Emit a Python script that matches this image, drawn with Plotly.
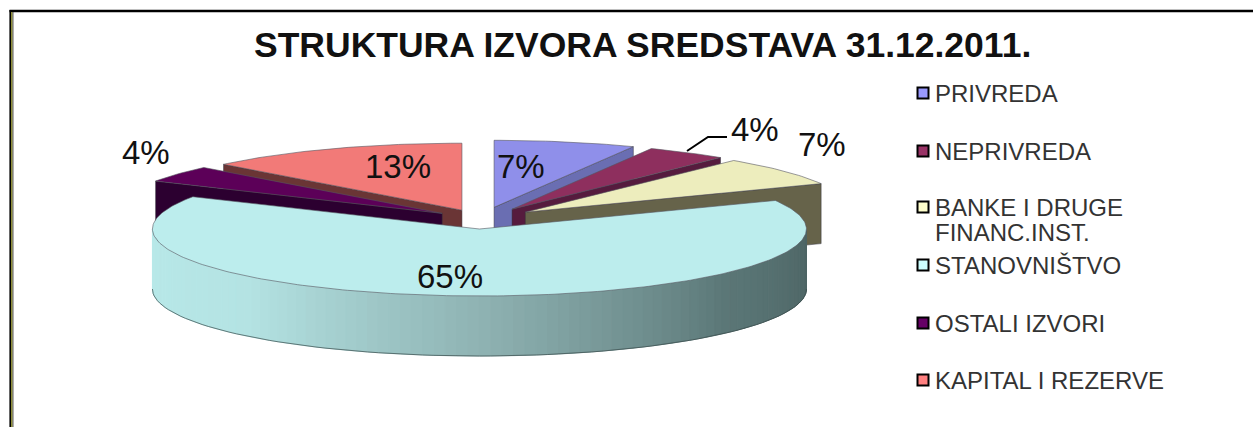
import math
import plotly.graph_objects as go

categories = ["PRIVREDA", "NEPRIVREDA", "BANKE I DRUGE<br>FINANC.INST.", "STANOVNIŠTVO", "OSTALI IZVORI", "KAPITAL I REZERVE"]
values = [7, 4, 7, 65, 4, 13]
top_colors = ["#8f8fea", "#8e2f5e", "#ededbd", "#bceded", "#5c0058", "#f27a78"]
side_colors = ["#6a6eb2", "#561b3e", "#66634a", "#4d6666", "#2c0030", "#6a3535"]
swatch_colors = ["#9999ff", "#993366", "#ffffcc", "#ccffff", "#660066", "#ff8080"]
pull = [60, 58, 56, 50, 48, 48]
draw_order = [0, 1, 2, 5, 4, 3]

CX, CY, RX, RY, DEPTH, TILT = 481, 219, 327, 67, 60, 0.2
W, H = 1253, 427

total = sum(values)
edges = [0]
for v in values:
    edges.append(edges[-1] + v / total * 360)


def apex(i):
    mid = math.radians((edges[i] + edges[i + 1]) / 2)
    return CX + pull[i] * math.sin(mid), CY - pull[i] * TILT * math.cos(mid)


def rim(i, deg):
    ax, ay = apex(i)
    t = math.radians(deg)
    return ax + RX * math.sin(t), ay - RY * math.cos(t)


def lerp_hex(stops, f):
    for (f0, c0), (f1, c1) in zip(stops, stops[1:]):
        if f <= f1:
            u = (f - f0) / (f1 - f0)
            rgb = [round(int(c0[k:k + 2], 16) * (1 - u) + int(c1[k:k + 2], 16) * u) for k in (1, 3, 5)]
            return "rgb(%d,%d,%d)" % tuple(rgb)
    return stops[-1][1]


fig = go.Figure()


def poly(xs, ys, fill, line=None, width=0, name=""):
    fig.add_trace(go.Scatter(
        x=xs + xs[:1], y=ys + ys[:1], mode="lines", fill="toself", fillcolor=fill,
        line=dict(color=line or fill, width=width), name=name, showlegend=False, hoverinfo="name"))


wall_stops = [(0, "#b8e9e9"), (0.25, "#b4e3e3"), (0.5, "#8fb3b3"), (0.78, "#5a7676"), (1, "#4d6464")]

for i in draw_order:
    ax, ay = apex(i)
    a0, a1 = edges[i], edges[i + 1]
    if i == 3:
        n = 90
        lo, hi = 90, 270
        for k in range(n):
            d0 = hi - (hi - lo) * k / n
            d1 = hi - (hi - lo) * (k + 1) / n
            x0, y0 = rim(i, d0)
            x1, y1 = rim(i, d1)
            c = lerp_hex(wall_stops, k / (n - 1))
            poly([x0, x1, x1, x0], [y0, y1, y1 + DEPTH, y0 + DEPTH], c, c, 1, categories[i])
        degs = [hi - (hi - lo) * k / n for k in range(n + 1)]
        pts = [rim(i, d) for d in degs]
        fig.add_trace(go.Scatter(x=[p[0] for p in pts], y=[p[1] + DEPTH for p in pts], mode="lines",
                                 line=dict(color="#3a4a4a", width=0.7), showlegend=False, hoverinfo="skip"))
    else:
        cut = a0 if i == 5 or i == 4 else a1
        ex, ey = rim(i, cut)
        poly([ax, ex, ex, ax], [ay, ey, ey + DEPTH, ay + DEPTH], side_colors[i], "#30303a", 0.5, categories[i])
    steps = max(8, int(a1 - a0))
    arc = [rim(i, a0 + (a1 - a0) * k / steps) for k in range(steps + 1)]
    poly([ax] + [p[0] for p in arc], [ay] + [p[1] for p in arc], top_colors[i], "#55555f", 0.6, categories[i])

legend_y = [93, 151, 207, 265, 323, 380]
fig.add_trace(go.Scatter(
    x=[923] * 6, y=legend_y, mode="markers", showlegend=False, hoverinfo="skip",
    marker=dict(symbol="square", size=11, color=swatch_colors, line=dict(color="black", width=2))))

ann = []
for cat, y in zip(categories, legend_y):
    for j, part in enumerate(cat.split("<br>")):
        ann.append(dict(x=935, y=y + j * 25, text=part, showarrow=False, xanchor="left", yanchor="middle",
                        align="left", xshift=-2, font=dict(family="Liberation Sans", size=24, color="#333333")))

label_pos = [(521, 166), (755, 129), (822, 144), (450, 276), (146, 152), (398, 166)]
for v, (x, y) in zip(values, label_pos):
    ann.append(dict(x=x, y=y, text=f"{v}%", showarrow=False, xanchor="center", yanchor="middle",
                    font=dict(family="Liberation Sans", size=33, color="#111111")))
ann.append(dict(x=642, y=45, text="<b>STRUKTURA IZVORA SREDSTAVA 31.12.2011.</b>", showarrow=False,
                xanchor="center", yanchor="middle", font=dict(family="Liberation Sans", size=35.5, color="#111111")))

fig.add_trace(go.Scatter(x=[687, 708, 727], y=[151, 137, 137], mode="lines",
                         line=dict(color="black", width=2), showlegend=False, hoverinfo="skip"))

shapes = [
    dict(type="line", x0=9.5, x1=W, y0=11, y1=11, line=dict(color="black", width=2.5)),
    dict(type="line", x0=10.2, x1=10.2, y0=10, y1=H, line=dict(color="black", width=1.6)),
    dict(type="line", x0=11.8, x1=11.8, y0=12, y1=H, line=dict(color="#8a8a30", width=1.5)),
    dict(type="line", x0=13, x1=13, y0=12, y1=H, line=dict(color="#333333", width=0.8)),
]

fig.update_layout(
    width=W, height=H, margin=dict(l=0, r=0, t=0, b=0),
    paper_bgcolor="white", plot_bgcolor="white", showlegend=False,
    xaxis=dict(range=[0, W], visible=False, fixedrange=True),
    yaxis=dict(range=[H, 0], visible=False, fixedrange=True),
    annotations=ann, shapes=shapes,
)
fig.write_html("out.html", config=dict(displayModeBar=False),
               post_script="document.body.style.margin='0';document.body.style.overflow='hidden';")
